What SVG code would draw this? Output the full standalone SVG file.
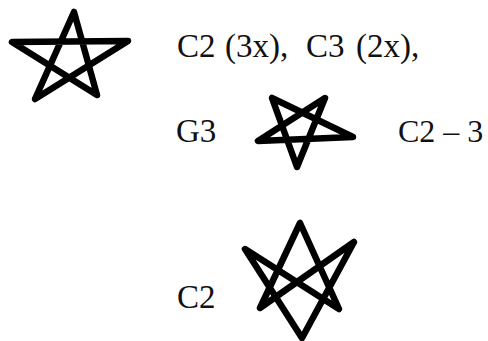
<svg xmlns="http://www.w3.org/2000/svg" width="488" height="341" viewBox="0 0 488 341">
<style>
.s{fill:none;stroke:#000;stroke-width:6.5;stroke-linecap:round;stroke-linejoin:round}
.t{font-family:"Liberation Serif","Times New Roman",serif;font-size:33px;fill:#111}
</style>
<rect width="488" height="341" fill="#fff"/>
<g id="star1">
<path class="s" d="M35,99 L74,12 L97,95 L12,42 L128,41 Z"/>
</g>
<g id="label1">
<text class="t" y="57"><tspan x="177">C2</tspan><tspan x="225">(3x),</tspan><tspan x="306">C3</tspan><tspan x="356">(2x),</tspan></text>
</g>
<g id="label-g3">
<text class="t" x="176" y="142">G3</text>
</g>
<g id="star2">
<path class="s" d="M272,98 L297,167 L325,98 L258,141 L353,137 Z"/>
</g>
<g id="label-c23">
<text class="t" x="398" y="142" style="font-size:32px">C2 – 3</text>
</g>
<g id="label-c2">
<text class="t" x="177" y="308">C2</text>
</g>
<g id="star3">
<path class="s" d="M300,223 L260,308 L354,242 L302,338 L245,249 L339,309 Z"/>
</g>
</svg>
